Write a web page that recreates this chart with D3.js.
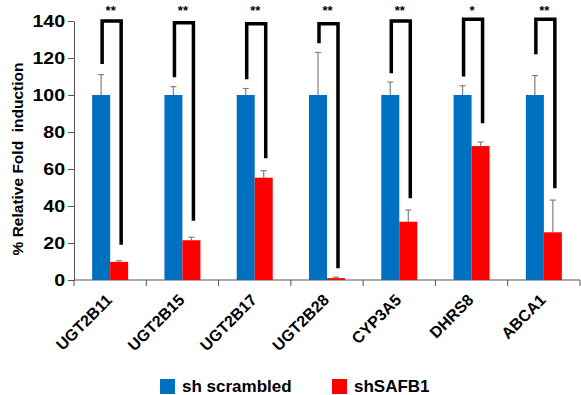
<!DOCTYPE html>
<html>
<head>
<meta charset="utf-8">
<script src="https://cdn.jsdelivr.net/npm/d3@7"></script>
<style>
  body { margin: 0; background: #fff; }
  svg { font-family: Arial, "Liberation Sans", sans-serif; font-weight: bold; }
</style>
</head>
<body>
<svg id="chart" width="581" height="395"></svg>
<script>
var genes = ['UGT2B11', 'UGT2B15', 'UGT2B17', 'UGT2B28', 'CYP3A5', 'DHRS8', 'ABCA1'];
var scrambled = [100, 100, 100, 100, 100, 100, 100];
var scrambledErr = [11, 4.5, 3.5, 23, 7, 5, 10.5];
var safb1 = [9.8, 21.5, 55.3, 1, 31.5, 72.4, 25.8];
var safb1Err = [0.6, 1.6, 3.8, 0.5, 6.3, 2.2, 17.4];
var sigLabels = ['**', '**', '**', '**', '**', '*', '**'];
var bracketTop = [140, 139, 138.5, 138.5, 140, 141, 141];
var bracketLeft = [116.8, 109.6, 108.5, 128, 111.7, 110, 122];
var bracketRight = [19, 32, 65.8, 6.3, 44.2, 84.7, 49.6];
var yTicks = [0, 20, 40, 60, 80, 100, 120, 140];
var seriesNames = ['sh scrambled', 'shSAFB1'];
var colors = ['#0070c0', '#ff0000'];

var svg = d3.select('#chart');

var x = d3.scaleBand()
  .domain(genes)
  .range([74, 580]);

var y = d3.scaleLinear()
  .domain([0, 140])
  .range([280, 21]);

var barW = 18;
var stretch = 1.15;

// y axis
var yAxis = svg.append('g')
  .attr('transform', 'translate(74,0)')
  .call(d3.axisLeft(y).tickValues(yTicks).tickSize(6).tickSizeOuter(0).tickPadding(3));
yAxis.select('.domain').attr('stroke', '#555');
yAxis.selectAll('.tick line').attr('stroke', '#555');
yAxis.selectAll('.tick text')
  .attr('font-size', 17)
  .attr('font-family', 'Arial, "Liberation Sans", sans-serif')
  .attr('font-weight', 'bold')
  .attr('fill', '#000')
  .attr('x', -9 / stretch)
  .attr('transform', 'scale(' + stretch + ',1)');

// x axis
var bounds = genes.map(function(g) { return x(g); }).concat([x.range()[1]]);
svg.append('line')
  .attr('x1', 74).attr('x2', 580)
  .attr('y1', y(0)).attr('y2', y(0))
  .attr('stroke', '#555');
svg.selectAll('.xtick')
  .data(bounds)
  .enter().append('line')
  .attr('x1', d => d).attr('x2', d => d)
  .attr('y1', y(0)).attr('y2', y(0) + 6)
  .attr('stroke', '#555');

svg.selectAll('.xlabel')
  .data(genes)
  .enter().append('text')
  .attr('text-anchor', 'end')
  .attr('font-size', 16)
  .attr('transform', d => 'translate(' + (x(d) + x.bandwidth() / 2 + 3) + ',' + (y(0) + 21) + ') rotate(-45)')
  .text(d => d);

// bars
var cx = d => x(d) + x.bandwidth() / 2;

svg.selectAll('.bar1')
  .data(genes)
  .enter().append('rect')
  .attr('x', d => cx(d) - barW)
  .attr('width', barW)
  .attr('y', (d, i) => y(scrambled[i]))
  .attr('height', (d, i) => y(0) - y(scrambled[i]))
  .attr('fill', colors[0]);

svg.selectAll('.bar2')
  .data(genes)
  .enter().append('rect')
  .attr('x', d => cx(d))
  .attr('width', barW)
  .attr('y', (d, i) => y(safb1[i]))
  .attr('height', (d, i) => y(0) - y(safb1[i]))
  .attr('fill', colors[1]);

// error bars (upper only)
function errBars(vals, errs, off) {
  var g = svg.append('g').attr('stroke', '#808080').attr('stroke-width', 1.2);
  genes.forEach(function(d, i) {
    var xx = cx(d) + off;
    g.append('line').attr('x1', xx).attr('x2', xx)
      .attr('y1', y(vals[i])).attr('y2', y(vals[i] + errs[i]));
    g.append('line').attr('x1', xx - 3).attr('x2', xx + 3)
      .attr('y1', y(vals[i] + errs[i])).attr('y2', y(vals[i] + errs[i]));
  });
}
errBars(scrambled, scrambledErr, -barW / 2);
errBars(safb1, safb1Err, barW / 2);

// significance brackets
var brackets = svg.append('g');
genes.forEach(function(d, i) {
  var xl = cx(d) - barW / 2 + 1;
  var xr = cx(d) + barW / 2 + 2;
  brackets.append('path')
    .attr('d', d3.line()([[xl, y(bracketLeft[i])], [xl, y(bracketTop[i])], [xr, y(bracketTop[i])], [xr, y(bracketRight[i])]]))
    .attr('fill', 'none')
    .attr('stroke', '#000')
    .attr('stroke-width', 3.5);
  brackets.append('text')
    .attr('x', (xl + xr) / 2 - 1)
    .attr('y', 15)
    .attr('text-anchor', 'middle')
    .attr('font-size', 13)
    .text(sigLabels[i]);
});

// y axis title
svg.append('text')
  .attr('transform', 'translate(23,159) rotate(-90)')
  .attr('text-anchor', 'middle')
  .attr('font-size', 15.5)
  .style('white-space', 'pre')
  .text('% Relative Fold  induction');

// legend
var legend = svg.append('g');
var legX = [160, 332];
seriesNames.forEach(function(n, i) {
  legend.append('rect')
    .attr('x', legX[i]).attr('y', 379)
    .attr('width', 15).attr('height', 15)
    .attr('fill', colors[i]);
  legend.append('text')
    .attr('x', legX[i] + 22).attr('y', 392)
    .attr('font-size', 17)
    .text(n);
});
</script>
</body>
</html>
